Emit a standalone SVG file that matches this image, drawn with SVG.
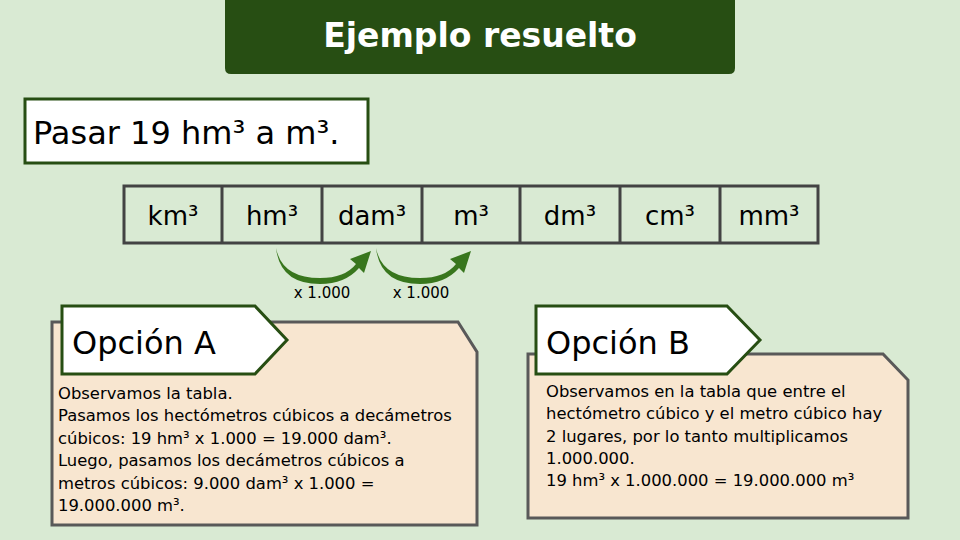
<svg xmlns="http://www.w3.org/2000/svg" width="960" height="540" viewBox="0 0 960 540">
<style>
text{font-family:"DejaVu Sans","Noto Sans",sans-serif;fill:#000}
.cell{fill:none;stroke:#434343;stroke-width:3}
.ct{font-size:26px;text-anchor:middle}
.card{fill:#f8e6d0;stroke:#595959;stroke-width:3}
.tab{fill:#fff;stroke:#274e13;stroke-width:3}
.tt{font-size:32px}
.bt{font-size:16.4px}
.arr{fill:#38761d}
</style>
<rect width="960" height="540" fill="#d9ead3"/>
<g id="title"><path d="M225 0H735V68Q735 74 729 74H231Q225 74 225 68Z" fill="#274e13"/>
<text x="480" y="47" font-size="33" font-weight="bold" text-anchor="middle" style="fill:#fff">Ejemplo resuelto</text></g>
<g id="problem"><rect x="25" y="99" width="343" height="64" fill="#fff" stroke="#274e13" stroke-width="3"/>
<text x="33" y="144" font-size="32">Pasar 19 hm³ a m³.</text></g>
<g id="table">
<rect class="cell" x="124" y="186" width="694" height="57"/>
<path class="cell" d="M222 186V243M322 186V243M422 186V243M520 186V243M620 186V243M720 186V243"/>
<text class="ct" x="173" y="225">km³</text><text class="ct" x="272" y="225">hm³</text><text class="ct" x="372" y="225">dam³</text><text class="ct" x="471" y="225">m³</text><text class="ct" x="570" y="225">dm³</text><text class="ct" x="670" y="225">cm³</text><text class="ct" x="769" y="225">mm³</text>
</g>
<g id="connectors">
<path class="arr" d="M276 248Q282 278 320 278Q345 278 356 264L350 259L371 251L364 273L359 268Q345 284 320 284Q280 284 276 248Z"/>
<path class="arr" d="M376 248Q382 278 420 278Q445 278 456 264L450 259L471 251L464 273L459 268Q445 284 420 284Q380 284 376 248Z"/>
<text x="322" y="298" font-size="15" text-anchor="middle">x 1.000</text>
<text x="421" y="298" font-size="15" text-anchor="middle">x 1.000</text>
</g>
<g id="optionA">
<path class="card" d="M52 322H458L477 352V525H52Z"/>
<path class="tab" d="M62 306H255L287 340L255 374H62Z"/>
<text class="tt" x="72" y="354">Opción A</text>
<text class="bt" x="58" y="399">Observamos la tabla.</text>
<text class="bt" x="58" y="421">Pasamos los hectómetros cúbicos a decámetros</text>
<text class="bt" x="58" y="444">cúbicos: 19 hm³ x 1.000 = 19.000 dam³.</text>
<text class="bt" x="58" y="466">Luego, pasamos los decámetros cúbicos a</text>
<text class="bt" x="58" y="489">metros cúbicos: 9.000 dam³ x 1.000 =</text>
<text class="bt" x="58" y="511">19.000.000 m³.</text>
</g>
<g id="optionB">
<path class="card" d="M528 354H883L908 380V518H528Z"/>
<path class="tab" d="M536 306H727L760 340L727 374H536Z"/>
<text class="tt" x="546" y="354">Opción B</text>
<text class="bt" x="546" y="397">Observamos en la tabla que entre el</text>
<text class="bt" x="546" y="419">hectómetro cúbico y el metro cúbico hay</text>
<text class="bt" x="546" y="442">2 lugares, por lo tanto multiplicamos</text>
<text class="bt" x="546" y="464">1.000.000.</text>
<text class="bt" x="546" y="486">19 hm³ x 1.000.000 = 19.000.000 m³</text>
</g>
</svg>
